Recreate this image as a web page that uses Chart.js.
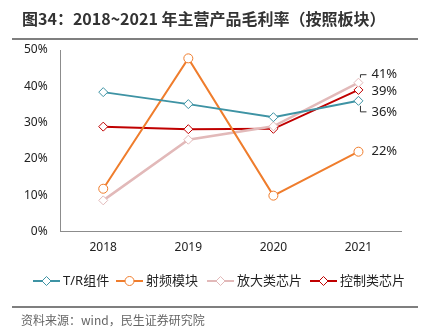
<!DOCTYPE html>
<html>
<head>
<meta charset="utf-8">
<script src="https://cdn.jsdelivr.net/npm/chart.js@4/dist/chart.umd.min.js"></script>
<style>
  html, body { margin: 0; padding: 0; background: #fff; }
  #wrap { position: relative; width: 430px; height: 332px; overflow: hidden; }
  #chart { position: absolute; left: 0; top: 0; }
  .title {
    position: absolute; left: 22px; top: 6px;
    font: bold 16px "Noto Sans CJK SC", sans-serif; color: #333; white-space: nowrap;
  }
  .rule { position: absolute; left: 12px; width: 406px; height: 2px; background: #7f7f7f; }
  .source {
    position: absolute; left: 21px; top: 311px;
    font: 12px "Noto Sans CJK SC", sans-serif; color: #666; white-space: nowrap;
  }
</style>
</head>
<body>
<div id="wrap">
  <canvas id="chart" width="430" height="332"></canvas>
  <div class="title">图34：2018~2021 年主营产品毛利率（按照板块）</div>
  <div class="rule" style="top:38px"></div>
  <div class="rule" style="top:306px"></div>
  <div class="source">资料来源：wind，民生证券研究院</div>
</div>
<script>
// 年份与各板块毛利率 (%)
const years = ['2018', '2019', '2020', '2021'];
const trModule = [38.4, 35.1, 31.5, 36];
const rfModule = [11.8, 47.7, 9.9, 22];
const ampChip = [8.6, 25.3, 29, 41];
const ctrlChip = [28.9, 28.2, 28.3, 39];
const seriesNames = ['T/R组件', '射频模块', '放大类芯片', '控制类芯片'];

const FONT = '"Noto Sans", "Noto Sans CJK SC", sans-serif';

function series(label, data, color, style, width, labelDy, leader) {
    return {
        label, data,
        borderColor: color,
        backgroundColor: '#fff',
        borderWidth: width,
        pointStyle: style,
        pointRadius: 4.5,
        pointBorderWidth: 1,
        pointBackgroundColor: '#fff',
        pointBorderColor: color,
        tension: 0,
        labelDy, leader
    };
}

// 末端数值标签（带引导线）
const endLabels = {
    id: 'endLabels',
    afterDatasetsDraw(chart) {
        const ctx = chart.ctx;
        ctx.save();
        ctx.font = '13px ' + FONT;
        ctx.fillStyle = '#222';
        ctx.textBaseline = 'middle';
        chart.data.datasets.forEach((ds, i) => {
            const meta = chart.getDatasetMeta(i);
            const last = meta.data[meta.data.length - 1];
            const v = ds.data[ds.data.length - 1];
            const ty = last.y + ds.labelDy;
            ctx.fillText(Math.round(v) + '%', last.x + 13, ty);
            if (ds.leader) {
                ctx.strokeStyle = '#333';
                ctx.lineWidth = 1;
                ctx.beginPath();
                const sy = last.y + (ds.labelDy < 0 ? -5 : 5);
                ctx.moveTo(last.x + 2, sy);
                ctx.lineTo(last.x + 2, ty);
                ctx.lineTo(last.x + 8, ty);
                ctx.stroke();
            }
        });
        ctx.restore();
    }
};

// 底部图例：线段 + 标记
const lineLegend = {
    id: 'lineLegend',
    afterDraw(chart) {
        const ctx = chart.ctx;
        const y = 281;
        const starts = [33, 116, 207, 310];
        ctx.save();
        ctx.font = '13px ' + FONT;
        ctx.textBaseline = 'middle';
        chart.data.datasets.forEach((ds, i) => {
            const x = starts[i];
            ctx.strokeStyle = ds.borderColor;
            ctx.lineWidth = 2;
            ctx.beginPath();
            ctx.moveTo(x, y);
            ctx.lineTo(x + 27, y);
            ctx.stroke();
            ctx.fillStyle = '#fff';
            ctx.strokeStyle = ds.borderColor;
            ctx.lineWidth = 1;
            Chart.helpers.drawPoint(ctx, { pointStyle: ds.pointStyle, radius: 4.5, borderWidth: 1 }, x + 13.5, y);
            ctx.fillStyle = '#222';
            ctx.fillText(ds.label, x + 30, y);
        });
        ctx.restore();
    }
};

new Chart(document.getElementById('chart'), {
    type: 'line',
    data: {
        labels: years,
        datasets: [
            series(seriesNames[0], trModule, '#3e93a4', 'rectRot', 2, 11, true),
            series(seriesNames[1], rfModule, '#ef7d2d', 'circle', 2, 0, false),
            series(seriesNames[2], ampChip, '#e2b9b9', 'rectRot', 2.5, -8, true),
            series(seriesNames[3], ctrlChip, '#c00000', 'rectRot', 2, 1, false)
        ]
    },
    options: {
        responsive: false,
        animation: false,
        layout: { padding: { left: 11, right: 29, top: 50, bottom: 68 } },
        plugins: { legend: { display: false }, tooltip: { enabled: false } },
        scales: {
            x: {
                offset: true,
                grid: { display: false, drawTicks: false },
                border: { color: '#8c8c8c', width: 1 },
                ticks: { color: '#222', font: { family: FONT, size: 12 }, padding: 9 }
            },
            y: {
                min: 0, max: 50,
                grid: { display: false, drawTicks: false },
                border: { color: '#8c8c8c', width: 1 },
                ticks: {
                    stepSize: 10, color: '#222', padding: 13,
                    font: { family: FONT, size: 12 },
                    callback: v => v + '%'
                }
            }
        }
    },
    plugins: [endLabels, lineLegend]
});
</script>
</body>
</html>
